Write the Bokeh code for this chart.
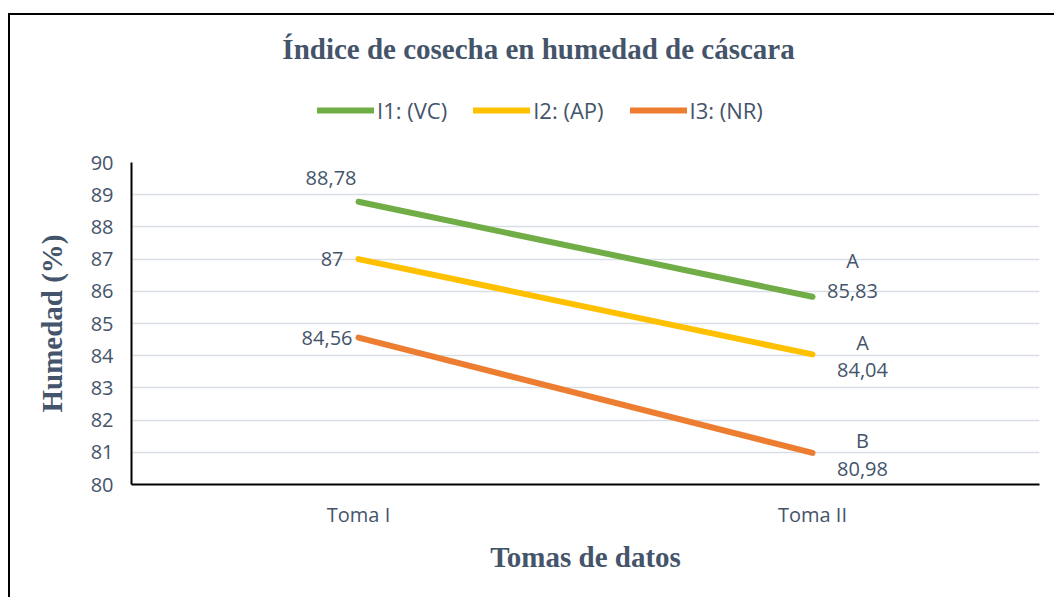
from bokeh.plotting import figure
from bokeh.models import Legend, LegendItem, FixedTicker, Label, Range1d
from bokeh.layouts import column
from bokeh.core.properties import value
from bokeh.embed import file_html
from bokeh.resources import INLINE

# ---------------- data ----------------
categories = ["Toma I", "Toma II"]
series_names = ["I1: (VC)", "I2: (AP)", "I3: (NR)"]
i1_vc = [88.78, 85.83]
i2_ap = [87.00, 84.04]
i3_nr = [84.56, 80.98]
labels_i1 = ["88,78", "85,83"]
labels_i2 = ["87", "84,04"]
labels_i3 = ["84,56", "80,98"]
letters = ["A", "A", "B"]           # significance letters at Toma II
y_ticks = list(range(80, 91))

title_text = "Índice de cosecha en humedad de cáscara"
x_title = "Tomas de datos"
y_title = "Humedad (%)"

# ---------------- styles ----------------
TXT = "#44546A"
colors = ["#70AD47", "#FFC000", "#ED7D31"]
SANS = "Open Sans"
SERIF = "Liberation Serif"
series = [i1_vc, i2_ap, i3_nr]

# ======== header figure: title + legend ========
TOP_H = 135
head = figure(width=1044, height=TOP_H, x_range=categories, y_range=Range1d(TOP_H, 0),
              output_backend="svg", toolbar_location=None,
              x_axis_location=None, y_axis_location=None, min_border=0)
head.outline_line_color = None
head.grid.visible = False
head_renderers = []
for vals, c in zip(series, colors):
    r = head.line(x=categories, y=vals, line_color=c, line_width=6, line_cap="round",
                  visible=False)
    head_renderers.append(r)

head.add_layout(Label(x=407, y=33, x_units="screen", y_units="data", text=title_text,
                      text_align="center", text_baseline="middle", text_font=SERIF,
                      text_font_style="bold", text_font_size="29px", text_color=TXT))

legend = Legend(items=[LegendItem(label=n, renderers=[r]) for n, r in zip(series_names, head_renderers)],
                orientation="horizontal", location=(186, 25),
                glyph_width=57, glyph_height=20, label_standoff=3, spacing=26, label_width=0,
                padding=0, margin=0, border_line_color=None, background_fill_alpha=0,
                inactive_fill_alpha=0,
                label_text_font=SANS, label_text_font_size="22px", label_text_color=TXT)
head.add_layout(legend, "center")

# ======== main chart ========
BODY_H = 447
p = figure(width=1044, height=BODY_H, x_range=categories, y_range=(80, 90),
           output_backend="svg", toolbar_location=None,
           min_border_left=121, min_border_right=15,
           min_border_top=12, min_border_bottom=113)
p.x_range.range_padding = 0
p.outline_line_color = None

p.xgrid.grid_line_color = None
p.ygrid.grid_line_color = "#D9DEE6"
p.ygrid.grid_line_width = 1.5
p.yaxis.ticker = FixedTicker(ticks=y_ticks)

for ax in (p.xaxis[0], p.yaxis[0]):
    ax.axis_line_color = "black"
    ax.axis_line_width = 2
    ax.major_tick_line_color = None
    ax.minor_tick_line_color = None
    ax.major_label_text_font = SANS
    ax.major_label_text_font_size = "20px"
    ax.major_label_text_color = TXT
    ax.axis_label_text_font = SERIF
    ax.axis_label_text_font_style = "bold"
    ax.axis_label_text_font_size = "29px"
    ax.axis_label_text_color = TXT

p.yaxis.major_label_standoff = 12
p.yaxis.axis_label = y_title
p.yaxis.axis_label_standoff = 20
p.xaxis.major_label_standoff = 10
p.xaxis.axis_label = x_title
p.xaxis.axis_label_standoff = 10

for vals, c in zip(series, colors):
    p.line(x=categories, y=vals, line_color=c, line_width=6, line_cap="round")

# data labels - Toma I (left of point)
left_x_off = [-2, -15, -6]
left_y_off = [-24, 0, 0]
for vals, labs, xo, yo in zip(series, [labels_i1, labels_i2, labels_i3], left_x_off, left_y_off):
    p.text(x=[categories[0]], y=[vals[0]], text=[labs[0]], x_offset=xo, y_offset=yo,
           text_align="right", text_baseline="middle", text_font=value(SANS),
           text_font_size="20px", text_color=TXT)

# data labels - Toma II (value + letter)
right_x_off = [40, 50, 50]
right_val_y = [-6, 16, 16]
right_let_y = [-36, -12, -12]
for vals, labs, lt, xo, vy, ly in zip(series, [labels_i1, labels_i2, labels_i3], letters,
                                      right_x_off, right_val_y, right_let_y):
    p.text(x=[categories[1]], y=[vals[1]], text=[labs[1]], x_offset=xo, y_offset=vy,
           text_align="center", text_baseline="middle", text_font=value(SANS),
           text_font_size="20px", text_color=TXT)
    p.text(x=[categories[1]], y=[vals[1]], text=[lt], x_offset=xo, y_offset=ly,
           text_align="center", text_baseline="middle", text_font=value(SANS),
           text_font_size="20px", text_color=TXT)

page = column(head, p, spacing=0,
              styles={"margin-left": "8px", "margin-top": "13px",
                      "border-left": "2px solid black", "border-top": "2px solid black"})

open("out.html", "w").write(file_html(page, INLINE))
